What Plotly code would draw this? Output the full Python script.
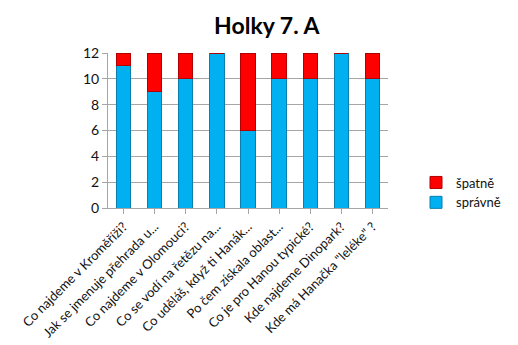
import plotly.graph_objects as go

otazky = [
    "Co najdeme v Kroměříži?",
    "Jak se jmenuje přehrada u...",
    "Co najdeme v Olomouci?",
    "Co se vodí na řetězu na...",
    "Co uděláš, když ti Hanák...",
    "Po čem získala oblast...",
    "Co je pro Hanou typické?",
    "Kde najdeme Dinopark?",
    "Kde má Hanačka \"leléke\" ?",
]
spravne = [11, 9, 10, 12, 6, 10, 10, 12, 10]
spatne = [1, 3, 2, 0, 6, 2, 2, 0, 2]
y_ticks = [0, 2, 4, 6, 8, 10, 12]

FONT = "Lato, 'Open Sans', sans-serif"

fig = go.Figure()
fig.add_trace(go.Bar(
    x=otazky, y=spravne, name="správně",
    marker=dict(color="#00B0F0", line=dict(color="#0a7fae", width=1)),
))
fig.add_trace(go.Bar(
    x=otazky, y=spatne, name="špatně",
    marker=dict(color="#FF0000", line=dict(color="#b00000", width=1)),
))

fig.update_layout(
    width=518, height=345,
    barmode="stack",
    bargap=0.54,
    paper_bgcolor="white",
    plot_bgcolor="white",
    margin=dict(l=108, r=110, t=53, b=137),
    title=dict(
        text="<b>Holky 7. A</b>",
        x=0.515, xanchor="center", y=0.925, yanchor="middle",
        font=dict(family=FONT, size=23, color="#000000"),
    ),
    font=dict(family=FONT, color="#111111"),
    legend=dict(
        x=1.1, xanchor="left", y=0.1, yanchor="middle",
        traceorder="reversed",
        font=dict(family=FONT, size=13, color="#111111"),
        itemwidth=30, bgcolor="rgba(0,0,0,0)",
    ),
    showlegend=True,
)
fig.update_xaxes(
    automargin=False,
    tickangle=-45,
    tickfont=dict(family=FONT, size=13, color="#111111"),
    showline=True, linecolor="#a6a6a6", linewidth=1,
    ticks="outside", ticklen=5, tickcolor="#a6a6a6",
    showgrid=False,
)
fig.update_yaxes(
    automargin=False,
    range=[0, 12],
    tickvals=y_ticks,
    tickfont=dict(family=FONT, size=14, color="#111111"),
    showgrid=True, gridcolor="#a6a6a6", gridwidth=1,
    showline=True, linecolor="#a6a6a6",
    ticks="outside", ticklen=5, tickcolor="#a6a6a6",
    zeroline=False,
)

fig.write_html("out.html")
